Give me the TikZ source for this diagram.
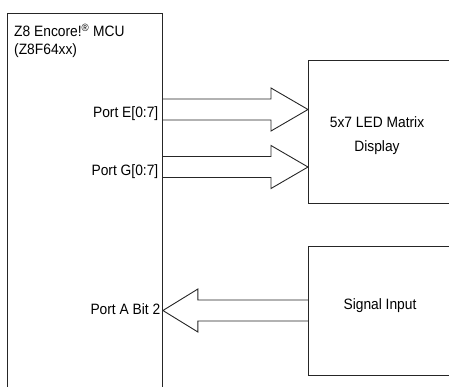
\documentclass[tikz,border=0pt]{standalone}
\usepackage{fontspec}
\setmainfont{Liberation Sans}[FakeStretch=0.92]
\usetikzlibrary{calc}
\tikzset{
  box/.style={draw=black!85, line width=0.9pt, rectangle, inner sep=0pt, anchor=north west},
  hollow/.style={draw=black!85, line width=0.9pt, line join=miter},
  lbl/.style={font=\fontsize{15}{17.6}\selectfont, inner sep=0pt},
}
\newcommand{\hollowarrow}[3]{%
  \draw[hollow] ($(#1)+(0,-10.5)$) -- ($(#2)+(#3,-10.5)$) -- ($(#2)+(#3,-21.5)$) -- (#2)
    -- ($(#2)+(#3,21.5)$) -- ($(#2)+(#3,10.5)$) -- ($(#1)+(0,10.5)$);}
\begin{document}
\begin{tikzpicture}[x=1pt, y=-1pt]
  \useasboundingbox (0,0) rectangle (449,386);
  \clip (0,0) rectangle (449,386);
  % blocks
  \node[box, minimum width=155pt, minimum height=390pt] (mcu) at (7,13) {};
  \node[box, minimum width=150pt, minimum height=143pt] (led) at (308,60) {};
  \node[box, minimum width=150pt, minimum height=129pt] (sig) at (308,246) {};
  % block texts
  \node[lbl, anchor=base west, align=left] (mcutxt) at (14,54.3) {Z8 Encore!\textsuperscript{®} MCU\\(Z8F64xx)};
  \node[lbl, anchor=base, align=center, font=\fontsize{15}{24.4}\selectfont] (ledtxt) at (377,151.7) {5x7 LED Matrix\\Display};
  \node[lbl, anchor=base] (sigtxt) at (380,309) {Signal Input};
  % port labels
  \node[lbl, anchor=base east] (pe) at (158.5,117.5) {Port E[0:7]};
  \node[lbl, anchor=base east] (pg) at (158.5,175) {Port G[0:7]};
  \node[lbl, anchor=base east] (pa) at (160.5,314) {Port A Bit 2};
  % connectors
  \coordinate (eS) at (mcu.east |- 0,109.5);
  \coordinate (eT) at (led.west |- 0,109.5);
  \coordinate (gS) at (mcu.east |- 0,167);
  \coordinate (gT) at (led.west |- 0,167);
  \coordinate (aS) at (sig.west |- 0,310.5);
  \coordinate (aT) at (mcu.east |- 0,310.5);
  \hollowarrow{eS}{eT}{-37}
  \hollowarrow{gS}{gT}{-37}
  \hollowarrow{aS}{aT}{35}
\end{tikzpicture}
\end{document}
